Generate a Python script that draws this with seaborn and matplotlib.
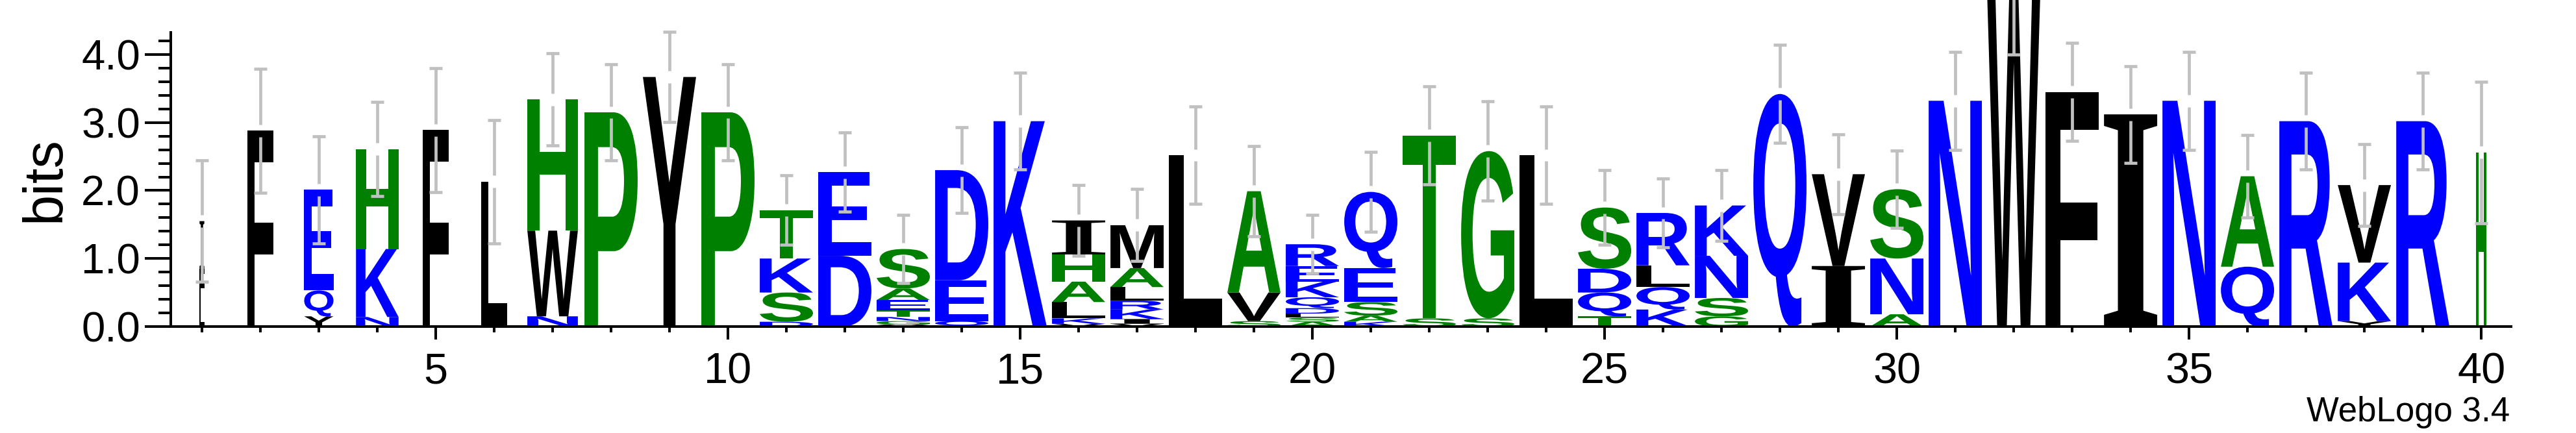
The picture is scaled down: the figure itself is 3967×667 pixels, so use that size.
import matplotlib
matplotlib.use("Agg")
import matplotlib.pyplot as plt
import seaborn as sns
from matplotlib.textpath import TextPath
from matplotlib.patches import PathPatch
from matplotlib.font_manager import FontProperties
from matplotlib.transforms import Affine2D
from matplotlib.ticker import MultipleLocator, FormatStrFormatter

# sequence logo data, letters listed bottom -> top
positions = list(range(1, 41))
stack_letters = [
    "LFI", "F", "YQE", "NKH", "F", "L", "NWH", "P", "Y", "P",
    "DSKT", "DE", "VGNTEAS", "QED", "K", "VKLAHI", "VIKRLAM", "L", "SVA", "ASLDQKER",
    "KASEQ", "ST", "SG", "L", "TQDS", "KQLR", "GSNK", "Q", "IV", "ANS",
    "N", "W", "F", "I", "N", "QA", "R", "YKV", "R", "H",
]
stack_heights = [
    [0.40, 0.45, 0.70], [2.88], [0.15, 0.38, 1.48], [0.14, 1.00, 1.47], [2.89],
    [2.13], [0.15, 1.26, 1.93], [3.15], [3.67], [3.15],
    [0.07, 0.43, 0.50, 0.71], [1.04, 1.23], [0.03, 0.05, 0.06, 0.10, 0.15, 0.17, 0.58],
    [0.08, 0.60, 1.62], [3.02],
    [0.04, 0.08, 0.24, 0.30, 0.40, 0.50], [0.04, 0.07, 0.14, 0.13, 0.20, 0.28, 0.63],
    [2.52], [0.08, 0.42, 1.49], [0.07, 0.06, 0.06, 0.08, 0.16, 0.23, 0.23, 0.32],
    [0.07, 0.09, 0.20, 0.50, 1.12], [0.12, 2.69], [0.12, 2.46], [2.52],
    [0.15, 0.35, 0.35, 0.90],
    [0.25, 0.33, 0.32, 0.77], [0.15, 0.27, 0.62, 0.74], [3.42], [0.89, 1.35], [0.18, 0.82, 1.02],
    [3.32], [4.90], [3.45], [3.12], [3.32],
    [0.88, 1.33], [3.02], [0.08, 0.86, 1.14], [3.02], [2.56],
]
error_half = [
    0.89, 0.91, 0.79, 0.69, 0.91, 0.91, 0.675, 0.71, 0.66, 0.71,
    0.51, 0.58, 0.50, 0.63, 0.71, 0.52, 0.53, 0.72, 0.66, 0.43,
    0.59, 0.72, 0.73, 0.72, 0.55, 0.51, 0.52, 0.72, 0.59, 0.57,
    0.72, 0.90, 0.72, 0.71, 0.72, 0.61, 0.71, 0.60, 0.71, 1.04,
]
# stack width scaled by occupancy
occupancy = [
    0.09, 0.50, 0.55, 0.80, 0.50, 0.49, 0.95, 1, 1, 1,
    1, 1, 1, 1, 1, 1, 1, 1, 1, 1,
    1, 1, 1, 1, 1, 1, 1, 1, 1, 1,
    1, 1, 1, 1, 1, 1, 1, 1, 1, 0.20,
]

# hydrophobicity colour scheme
letter_colors = {}
for c in "RKDENQ":
    letter_colors[c] = "#0000ff"
for c in "SGHTAP":
    letter_colors[c] = "#008000"
for c in "YVMCLFIW":
    letter_colors[c] = "#000000"

sns.set_theme(style="ticks", rc={
    "axes.edgecolor": "black", "xtick.color": "black", "ytick.color": "black",
    "text.color": "black", "axes.labelcolor": "black",
})
plt.rcParams["font.family"] = ["Liberation Sans", "DejaVu Sans"]

sans_bold = FontProperties(family="Liberation Sans", weight="bold")
serif_bold = FontProperties(family="Liberation Serif", weight="bold")


def draw_letter(ax, ch, x, y0, w, h, color):
    fp = serif_bold if ch == "I" else sans_bold
    tp = TextPath((0, 0), ch, size=1, prop=fp)
    bb = tp.get_extents()
    tr = (Affine2D().translate(-bb.x0, -bb.y0)
          .scale(w / bb.width, h / bb.height)
          .translate(x - w / 2, y0))
    ax.add_patch(PathPatch(tr.transform_path(tp), facecolor=color,
                           edgecolor="none", lw=0, clip_on=False))


fig = plt.figure(figsize=(39.67, 6.67), dpi=100)
ax = fig.add_axes([0.0663, 0.2459, 0.9085, 0.6784])

full_w = 0.91
gray = "#c0c0c0"
gap = 0.09
cap = 0.115
for x, lets, hs, e, occ in zip(positions, stack_letters, stack_heights, error_half, occupancy):
    y = 0.0
    w = full_w * occ
    for ch, h in zip(lets, hs):
        draw_letter(ax, ch, x, y, w, h, letter_colors[ch])
        y += h
    top = y
    ax.vlines(x, top + gap, top + e, colors=gray, lw=3.4, clip_on=False, zorder=5)
    ax.vlines(x, top - e, top - gap, colors=gray, lw=3.4, clip_on=False, zorder=5)
    ax.hlines([top + e, top - e], x - cap, x + cap, colors=gray, lw=3.4,
              clip_on=False, zorder=5)

ax.set_xlim(0.467, 40.51)
ax.set_ylim(0, 4.32)
ax.xaxis.set_major_locator(MultipleLocator(5))
ax.xaxis.set_minor_locator(MultipleLocator(1))
ax.yaxis.set_major_locator(MultipleLocator(1))
ax.yaxis.set_minor_locator(MultipleLocator(0.2))
ax.yaxis.set_major_formatter(FormatStrFormatter("%.1f"))

ax.tick_params(axis="y", which="major", length=29, width=2.9, labelsize=47, pad=5)
ax.tick_params(axis="y", which="minor", length=13.7, width=2.9)
ax.tick_params(axis="x", which="major", length=14.4, width=2.9, labelsize=48, pad=14)
ax.tick_params(axis="x", which="minor", length=6.5, width=2.9)
for s in ax.spines.values():
    s.set_linewidth(2.9)
sns.despine(ax=ax)
ax.set_xlabel(None)
ax.set_ylabel(None)

fig.text(0.0174, 0.586, "bits", rotation=90, fontsize=61, ha="center", va="center")
fig.text(0.9743, 0.048, "WebLogo 3.4", ha="right", va="center", fontsize=38)

fig.savefig("out.png", dpi=100)
